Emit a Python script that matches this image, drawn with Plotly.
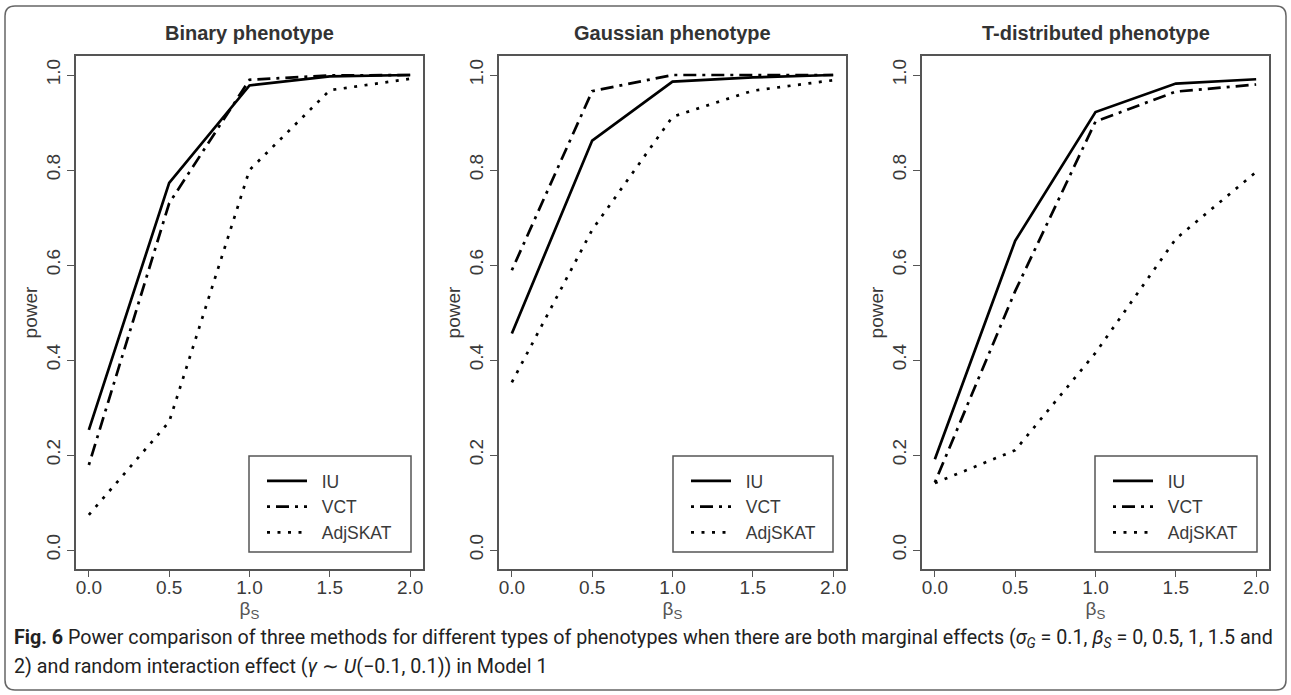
import plotly.graph_objects as go

# ---- data ----
beta = [0, 0.5, 1, 1.5, 2]
panel_titles = ["Binary phenotype", "Gaussian phenotype", "T-distributed phenotype"]
methods = ["IU", "VCT", "AdjSKAT"]

binary_iu = [0.253, 0.773, 0.978, 0.997, 1.0]
binary_vct = [0.179, 0.730, 0.990, 0.999, 1.0]
binary_adj = [0.074, 0.270, 0.800, 0.968, 0.992]

gauss_iu = [0.456, 0.862, 0.986, 0.995, 1.0]
gauss_vct = [0.589, 0.966, 1.0, 1.0, 1.0]
gauss_adj = [0.353, 0.674, 0.912, 0.967, 0.989]

t_iu = [0.191, 0.651, 0.922, 0.982, 0.991]
t_vct = [0.142, 0.545, 0.902, 0.965, 0.980]
t_adj = [0.141, 0.210, 0.415, 0.655, 0.796]

y_ticks = [0.0, 0.2, 0.4, 0.6, 0.8, 1.0]
y_ticktext = ["0.0", "0.2", "0.4", "0.6", "0.8", "1.0"]
x_ticks = [0.0, 0.5, 1.0, 1.5, 2.0]
x_ticktext = ["0.0", "0.5", "1.0", "1.5", "2.0"]

caption1 = ("<b>Fig. 6</b> Power comparison of three methods for different types of phenotypes "
            "when there are both marginal effects (<i>σ<sub>G</sub></i> = 0.1, <i>β<sub>S</sub></i> = 0, 0.5, 1, 1.5 and")
caption2 = "2) and random interaction effect (<i>γ</i> ∼ <i>U</i>(−0.1, 0.1)) in Model 1"

# ---- layout geometry (pixels) ----
W, H = 1291, 695
panels_px = [(76, 423), (499, 846), (922, 1269)]
legend_px = [(249, 411), (673, 833), (1095, 1257)]
box_top, box_bot = 56, 569
leg_top, leg_bot = 456, 552

series = [
    (binary_iu, binary_vct, binary_adj),
    (gauss_iu, gauss_vct, gauss_adj),
    (t_iu, t_vct, t_adj),
]
dashes = ["solid", "3px,6px,13px,6px", "3px,7.5px"]

AX = "#555555"
TXT = "#3a3a3a"
FONT = "Liberation Sans, Arial, sans-serif"
NB = "\u00a0\u00a0"

fig = go.Figure()
layout = dict(
    width=W, height=H,
    margin=dict(l=0, r=0, t=0, b=0),
    plot_bgcolor="white", paper_bgcolor="white",
    font=dict(family=FONT, color=TXT, size=19),
    shapes=[], annotations=[],
)

for i, (vals, (x0, x1), (lx0, lx1)) in enumerate(zip(series, panels_px, legend_px)):
    k = "" if i == 0 else str(i + 1)
    legname = "legend" + k
    for m, v, d in zip(methods, vals, dashes):
        fig.add_trace(go.Scatter(
            x=beta, y=v, mode="lines", name=NB + m,
            line=dict(color="black", width=2.7, dash=d),
            xaxis="x" + k, yaxis="y" + k, legend=legname,
            showlegend=True,
        ))
    layout["xaxis" + k] = dict(
        domain=[x0 / W, x1 / W], anchor="y" + k, range=[-0.08, 2.08],
        tickvals=x_ticks, ticktext=x_ticktext, ticks="outside", ticklen=6,
        tickwidth=1.2, tickcolor=AX, showline=True, linecolor=AX, linewidth=1.5,
        mirror=True, showgrid=False, zeroline=False, ticklabelstandoff=-6,
        tickfont=dict(size=19, color=TXT),
        title=dict(text="β<sub>S</sub>", font=dict(size=19, color="#555555"), standoff=2),
    )
    layout["yaxis" + k] = dict(
        domain=[1 - box_bot / H, 1 - box_top / H], anchor="x" + k, range=[-0.04, 1.04],
        tickvals=y_ticks, ticktext=y_ticktext, ticks="outside", ticklen=7,
        tickwidth=1.2, tickcolor=AX, showline=True, linecolor=AX, linewidth=1.5,
        mirror=True, showgrid=False, zeroline=False, tickangle=-90,
        tickfont=dict(size=19, color=TXT),
        title=dict(text="power", font=dict(size=19, color=TXT), standoff=0),
    )
    layout[legname] = dict(
        x=(lx0 + 13) / W, y=1 - (leg_top + 7) / H, xanchor="left", yanchor="top",
        bgcolor="rgba(0,0,0,0)", borderwidth=0,
        font=dict(size=17.5, color=TXT), itemwidth=40, tracegroupgap=0,
    )
    layout["shapes"].append(dict(
        type="rect", xref="paper", yref="paper",
        x0=lx0 / W, x1=lx1 / W, y0=1 - leg_bot / H, y1=1 - leg_top / H,
        line=dict(color=AX, width=1.5),
    ))
    layout["annotations"].append(dict(
        text="<b>" + panel_titles[i] + "</b>", xref="paper", yref="paper",
        x=(x0 + x1) / 2 / W, y=1 - 33 / H, xanchor="center", yanchor="middle",
        showarrow=False, font=dict(size=20, color="#333333", family=FONT),
    ))

# outer rounded frame
r = 10
fx0, fx1, fy0, fy1 = 5, 1286, 6, 690
def px(x): return x / W
def py(y): return 1 - y / H
path = (f"M {px(fx0 + r)},{py(fy0)} L {px(fx1 - r)},{py(fy0)} "
        f"Q {px(fx1)},{py(fy0)} {px(fx1)},{py(fy0 + r)} "
        f"L {px(fx1)},{py(fy1 - r)} Q {px(fx1)},{py(fy1)} {px(fx1 - r)},{py(fy1)} "
        f"L {px(fx0 + r)},{py(fy1)} Q {px(fx0)},{py(fy1)} {px(fx0)},{py(fy1 - r)} "
        f"L {px(fx0)},{py(fy0 + r)} Q {px(fx0)},{py(fy0)} {px(fx0 + r)},{py(fy0)} Z")
layout["shapes"].append(dict(type="path", xref="paper", yref="paper", path=path,
                             line=dict(color="#666666", width=1.5)))

CAPFONT = "Roboto, sans-serif"
for txt, yy in [(caption1, 638), (caption2, 666)]:
    layout["annotations"].append(dict(
        text=txt, xref="paper", yref="paper", x=12 / W, y=py(yy),
        xanchor="left", yanchor="middle", showarrow=False, align="left",
        font=dict(size=19.7, color="#222222", family=CAPFONT),
    ))

fig.update_layout(**layout)
fig.write_html("out.html", config={"displayModeBar": False},
               post_script="document.body.style.margin='0';document.body.style.padding='0';")
